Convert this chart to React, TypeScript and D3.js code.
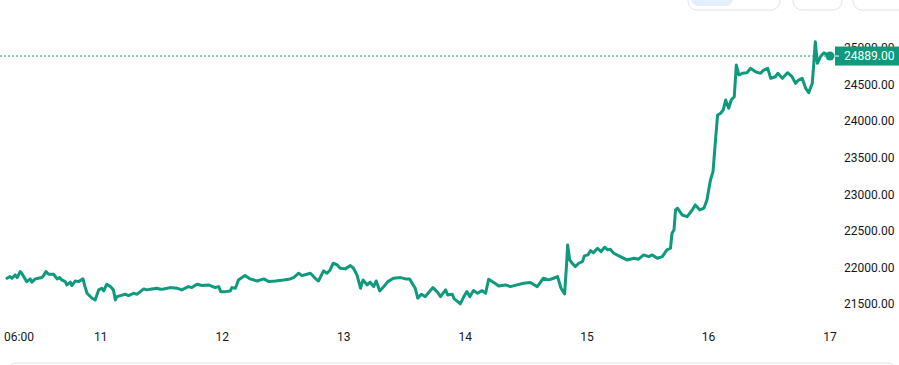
import React, { useEffect } from 'react';
import * as d3 from 'd3';

// hours since 2023-02-10 00:00 UTC, and the price at that time
const hours = [
  5.5, 6.1, 6.5, 7.1, 7.5, 8.1, 8.4, 9.4, 10.1, 10.4, 11.1, 11.7, 12.4, 12.7, 13.2, 13.7, 14.7, 15.4, 15.9, 16.3,
  17.0, 17.3, 18.0, 18.3, 19.0, 19.6, 20.5, 20.9, 21.3, 22.3, 22.9, 23.6, 24.2, 24.6, 25.2, 25.9, 26.5, 26.9, 27.2, 27.9,
  28.8, 29.5, 30.5, 31.2, 31.8, 32.5, 33.1, 34.1, 35.1, 35.8,
  36.4, 37.7, 39.1, 40.0, 41.3, 42.0, 43.0, 44.0, 45.3, 46.6, 47.3, 47.7, 48.6, 49.6, 49.9, 50.6, 51.2, 51.9, 52.5, 53.5,
  54.9, 56.2, 57.2, 58.5, 60.1, 61.4, 62.1, 63.1, 63.7, 64.7, 65.4,
  66.7, 67.0, 68.0, 68.7, 69.3, 69.9, 70.7, 71.3, 72.3, 73.3, 73.9, 74.6, 75.3, 75.8, 76.6, 77.2, 77.9, 78.4, 79.1, 79.9,
  80.7, 81.8, 83.2, 84.2, 85.0, 85.5, 86.1, 86.6, 87.3, 88.1, 88.8, 89.6, 90.4, 91.1, 92.1, 92.5, 93.4, 93.8, 94.9,
  95.0, 95.7, 96.3, 96.9, 97.6, 98.4, 99.3, 100.0, 100.6, 101.6, 102.6, 103.9, 104.9, 106.2, 107.5, 108.8, 110.2, 111.4, 112.5, 113.4,
  114.2, 114.9, 115.6, 116.0, 116.2, 116.6, 117.1, 117.7, 118.4, 119.1, 119.5, 120.2, 120.7, 121.3, 122.1, 122.8, 123.5, 124.1, 124.6,
  125.3, 126.6, 127.9, 129.3, 130.2, 131.2, 132.2, 132.9, 133.9, 134.9, 135.8, 136.5, 136.8, 137.2, 137.5, 137.9, 138.8, 139.8, 140.8, 141.4,
  142.3, 143.1, 143.7, 144.4, 144.9, 145.4, 145.8, 146.4, 146.9, 147.4, 148.0, 148.5, 149.1, 149.5, 150.0, 150.7, 151.6, 152.3, 153.3, 154.3,
  154.9, 155.7, 156.3, 157.2, 157.7, 158.6, 159.6, 160.5, 161.2, 161.8, 162.5, 163.2, 163.8, 164.5, 164.8, 165.1, 165.5, 166.1, 166.8, 167.5,
  168.0,
];

const prices = [
  21852, 21874, 21852, 21897, 21861, 21943, 21921, 21806, 21843, 21798, 21843, 21852, 21861, 21888, 21943, 21907, 21907, 21843, 21861, 21829,
  21806, 21761, 21798, 21752, 21815, 21806, 21843, 21738, 21647, 21579, 21556, 21693, 21716, 21679, 21770, 21738, 21693, 21556, 21601, 21615,
  21634, 21615, 21647, 21634, 21669, 21706, 21693, 21706, 21716, 21702,
  21706, 21724, 21716, 21693, 21738, 21724, 21770, 21752, 21761, 21724, 21738, 21669, 21669, 21679, 21724, 21716, 21829, 21861, 21888, 21843,
  21815, 21843, 21806, 21815, 21829, 21843, 21861, 21921, 21888, 21907, 21921,
  21829, 21815, 21952, 21921, 21966, 22057, 22034, 21989, 21980, 22025, 21989, 21897, 21716, 21829, 21761, 21798, 21738, 21815, 21679, 21738,
  21806, 21852, 21861, 21843, 21843, 21784, 21716, 21579, 21634, 21601, 21661, 21724, 21669, 21601, 21693, 21624, 21634, 21570, 21511,
  21501, 21601, 21669, 21601, 21683, 21647, 21683, 21647, 21839, 21793, 21747, 21761, 21738, 21761, 21784, 21793, 21738, 21852, 21829, 21852,
  21874, 21716, 21638, 22057, 22307, 22102, 22057, 22011, 22057, 22079, 22157, 22171, 22229, 22202, 22262, 22216, 22276, 22239, 22249,
  22194, 22148, 22102, 22125, 22112, 22171, 22148, 22171, 22125, 22148, 22239, 22262, 22467, 22512, 22785, 22809, 22717, 22694, 22785, 22854,
  22785, 22809, 22922, 23195, 23309, 23742, 24083, 24106, 24151, 24288, 24175, 24288, 24333, 24766, 24630, 24653, 24661, 24721, 24675, 24653,
  24698, 24721, 24584, 24606, 24653, 24584, 24661, 24606, 24516, 24561, 24584, 24448, 24388, 24516, 24789, 25084, 24789, 24879, 24934, 24903,
  24889,
];

const yTicks = [21500, 22000, 22500, 23000, 23500, 24000, 24500, 25000];
const xTickHours = [6, 24, 48, 72, 96, 120, 144, 168];
const xTickLabels = ['06:00', '11', '12', '13', '14', '15', '16', '17'];
const lastPrice = 24889;

const W = 899;
const H = 365;
const plotRight = 835;
const green = '#0f997d';
const textColor = '#131722';
const font = 'Roboto, "Noto Sans", sans-serif';

const t0 = Date.UTC(2023, 1, 10);
const toDate = (h: number) => new Date(t0 + h * 3600 * 1000);

export default function App() {
  useEffect(() => {
    document.body.style.margin = '0';
  }, []);

  const n = Math.min(hours.length, prices.length);
  const data = d3.range(n).map(i => ({ t: toDate(hours[i]), v: prices[i] }));

  const x = d3
    .scaleUtc()
    .domain(d3.extent(data, d => d.t) as [Date, Date])
    .range([7, 830]);

  const y = d3.scaleLinear().domain([21500, 24500]).range([304, 84.5]);

  const line = d3
    .line<{ t: Date; v: number }>()
    .x(d => x(d.t))
    .y(d => y(d.v))
    .curve(d3.curveLinear);

  const last = data[data.length - 1];

  return (
    <svg width={W} height={H} style={{ display: 'block', background: '#fff' }}>
      {/* top toolbar buttons */}
      <rect x={688} y={-12} width={92} height={22} rx={9} fill="#fff" stroke="#e0e3eb" />
      <rect x={691} y={-12} width={42} height={18} rx={7} fill="#e3effd" />
      <rect x={793} y={-12} width={49} height={22} rx={9} fill="#fff" stroke="#e0e3eb" />
      <rect x={853} y={-12} width={60} height={22} rx={9} fill="#fff" stroke="#e0e3eb" />

      {/* y axis labels */}
      <g fontFamily={font} fontSize={12} fill={textColor}>
        {yTicks.map(t => (
          <text key={t} x={844} y={y(t)} dy="0.36em">
            {t.toFixed(2)}
          </text>
        ))}
      </g>

      {/* x axis labels */}
      <g fontFamily={font} fontSize={12} fill={textColor}>
        {xTickHours.map((h, i) => {
          const px = x(toDate(h));
          const half = xTickLabels[i].length * 3.4;
          const clamp = px - half < 4;
          return (
            <text
              key={h}
              x={clamp ? 4 : px}
              y={337}
              dy="0.36em"
              textAnchor={clamp ? 'start' : 'middle'}
            >
              {xTickLabels[i]}
            </text>
          );
        })}
      </g>

      {/* last price dotted line */}
      <line
        x1={0}
        x2={plotRight}
        y1={y(lastPrice)}
        y2={y(lastPrice)}
        stroke={green}
        strokeWidth={1}
        strokeDasharray="2 2"
      />

      {/* price series */}
      <path
        d={line(data) || ''}
        fill="none"
        stroke={green}
        strokeWidth={3}
        strokeLinejoin="round"
        strokeLinecap="round"
      />
      <circle cx={x(last.t)} cy={y(last.v)} r={4.5} fill={green} />

      {/* last price label */}
      <rect x={plotRight} y={y(lastPrice) - 9.5} width={W - plotRight} height={19} fill={green} />
      <line x1={plotRight} x2={plotRight + 4} y1={y(lastPrice)} y2={y(lastPrice)} stroke="#fff" strokeWidth={1} />
      <text
        x={844}
        y={y(lastPrice)}
        dy="0.36em"
        fontFamily={font}
        fontSize={12}
        fill="#fff"
      >
        {lastPrice.toFixed(2)}
      </text>

      {/* bottom panel edge */}
      <rect x={8} y={363} width={888} height={30} rx={8} fill="#fff" stroke="#e0e3eb" />
    </svg>
  );
}
